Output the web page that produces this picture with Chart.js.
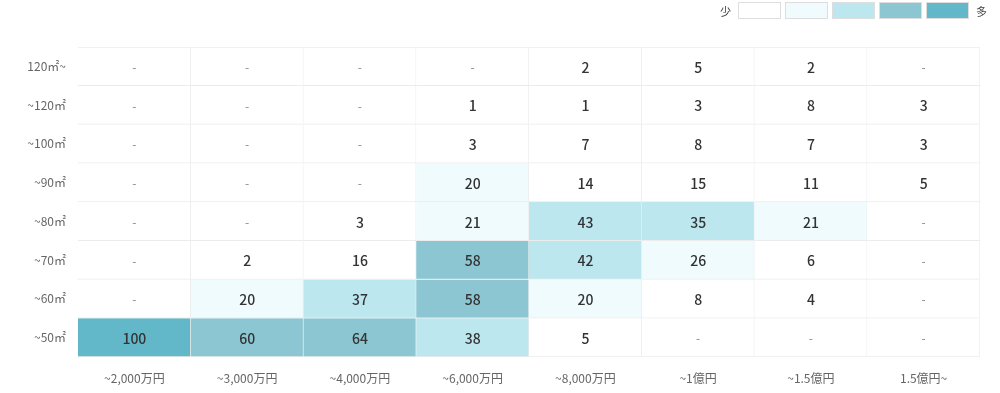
<!DOCTYPE html>
<html lang="ja">
<head>
  <meta charset="UTF-8" />
  <title>価格×面積 ヒートマップ</title>
  <script src="https://cdn.jsdelivr.net/npm/chart.js"></script>
  <style>
    body {
      margin: 0;
      background: #fff;
      font-family: "Noto Sans CJK JP", "Noto Sans", sans-serif;
    }
    .wrap {
      position: relative;
      width: 1000px;
      height: 393px;
    }
    .legend {
      position: absolute;
      top: 2px;
      left: 720px;
      display: flex;
      align-items: center;
      font-size: 11px;
      color: #444;
    }
    .legend span.box {
      width: 41px;
      height: 15px;
      border: 1px solid #dedede;
      margin-right: 4px;
    }
    .legend .txt { margin: 0 7px 0 0; }
    .legend .txt.end { margin: 0 0 0 3px; }
  </style>
</head>
<body>
<div class="wrap">
  <div class="legend">
    <span class="txt">少</span>
    <span class="box" style="background:#ffffff"></span>
    <span class="box" style="background:#f0fbfe"></span>
    <span class="box" style="background:#bce7ef"></span>
    <span class="box" style="background:#8cc6d2"></span>
    <span class="box" style="background:#62b8c9"></span>
    <span class="txt end">多</span>
  </div>
  <canvas id="heat"></canvas>
</div>

<script>
  // 価格帯 (x) と 面積帯 (y, 上から順)
  const priceLabels = ["~2,000万円", "~3,000万円", "~4,000万円", "~6,000万円", "~8,000万円", "~1億円", "~1.5億円", "1.5億円~"];
  const areaLabels = ["120㎡~", "~120㎡", "~100㎡", "~90㎡", "~80㎡", "~70㎡", "~60㎡", "~50㎡"];

  // 件数 (0 = "-")
  const row120plus = [0, 0, 0, 0, 2, 5, 2, 0];
  const row120 = [0, 0, 0, 1, 1, 3, 8, 3];
  const row100 = [0, 0, 0, 3, 7, 8, 7, 3];
  const row90 = [0, 0, 0, 20, 14, 15, 11, 5];
  const row80 = [0, 0, 3, 21, 43, 35, 21, 0];
  const row70 = [0, 2, 16, 58, 42, 26, 6, 0];
  const row60 = [0, 20, 37, 58, 20, 8, 4, 0];
  const row50 = [100, 60, 64, 38, 5, 0, 0, 0];
  const rows = [row120plus, row120, row100, row90, row80, row70, row60, row50];

  const levelColors = ["#ffffff", "#f0fbfe", "#bce7ef", "#8cc6d2", "#62b8c9"];
  const levelLimits = [20, 35, 58, 100];

  function colorFor(v) {
    let i = 0;
    while (i < levelLimits.length && v >= levelLimits[i]) i++;
    return levelColors[i];
  }

  const datasets = rows.map((row, r) => ({
    label: areaLabels[r],
    data: row.map(() => [r, r + 1]),
    counts: row,
    backgroundColor: row.map(colorFor),
    borderColor: "#ececec",
    borderWidth: { top: r === 0 ? 1 : 0, left: 0, right: 1, bottom: 1 },
    borderSkipped: false,
    barPercentage: 1,
    categoryPercentage: 1
  }));

  // セル中央に件数を描く
  const cellText = {
    id: "cellText",
    afterDatasetsDraw(chart) {
      const ctx = chart.ctx;
      ctx.save();
      ctx.textAlign = "center";
      ctx.textBaseline = "middle";
      chart.data.datasets.forEach((ds, di) => {
        const meta = chart.getDatasetMeta(di);
        meta.data.forEach((bar, i) => {
          const v = ds.counts[i];
          const cy = (bar.y + bar.base) / 2 + 1;
          if (v > 0) {
            ctx.fillStyle = "#333";
            ctx.font = "500 14px 'Noto Sans CJK JP'";
            ctx.fillText(String(v), bar.x, cy);
          } else {
            ctx.fillStyle = "#888";
            ctx.font = "12px 'Noto Sans CJK JP'";
            ctx.fillText("-", bar.x, cy);
          }
        });
      });
      ctx.restore();
    }
  };

  new Chart(document.getElementById("heat"), {
    type: "bar",
    data: { labels: priceLabels, datasets: datasets },
    options: {
      responsive: true,
      maintainAspectRatio: false,
      animation: false,
      layout: { padding: { top: 47, right: 20, left: 0, bottom: 0 } },
      plugins: {
        legend: { display: false },
        tooltip: { enabled: false }
      },
      scales: {
        x: {
          stacked: true,
          grid: { display: false },
          border: { display: false },
          ticks: {
            color: "#666",
            padding: 6,
            font: { family: "'Noto Sans CJK JP'", size: 12 }
          },
          afterFit(axis) { axis.height = 36; }
        },
        y: {
          type: "linear",
          reverse: true,
          min: 0,
          max: 8,
          stacked: false,
          grid: { display: false },
          border: { display: true, color: "#ececec", width: 1 },
          afterBuildTicks(axis) {
            axis.ticks = areaLabels.map((_, i) => ({ value: i + 0.5 }));
          },
          ticks: {
            color: "#666",
            padding: 4,
            font: { family: "'Noto Sans CJK JP'", size: 12 },
            callback: (value) => areaLabels[Math.floor(value)]
          },
          afterFit(axis) { axis.width = 78; }
        }
      }
    },
    plugins: [cellText]
  });
</script>
</body>
</html>
